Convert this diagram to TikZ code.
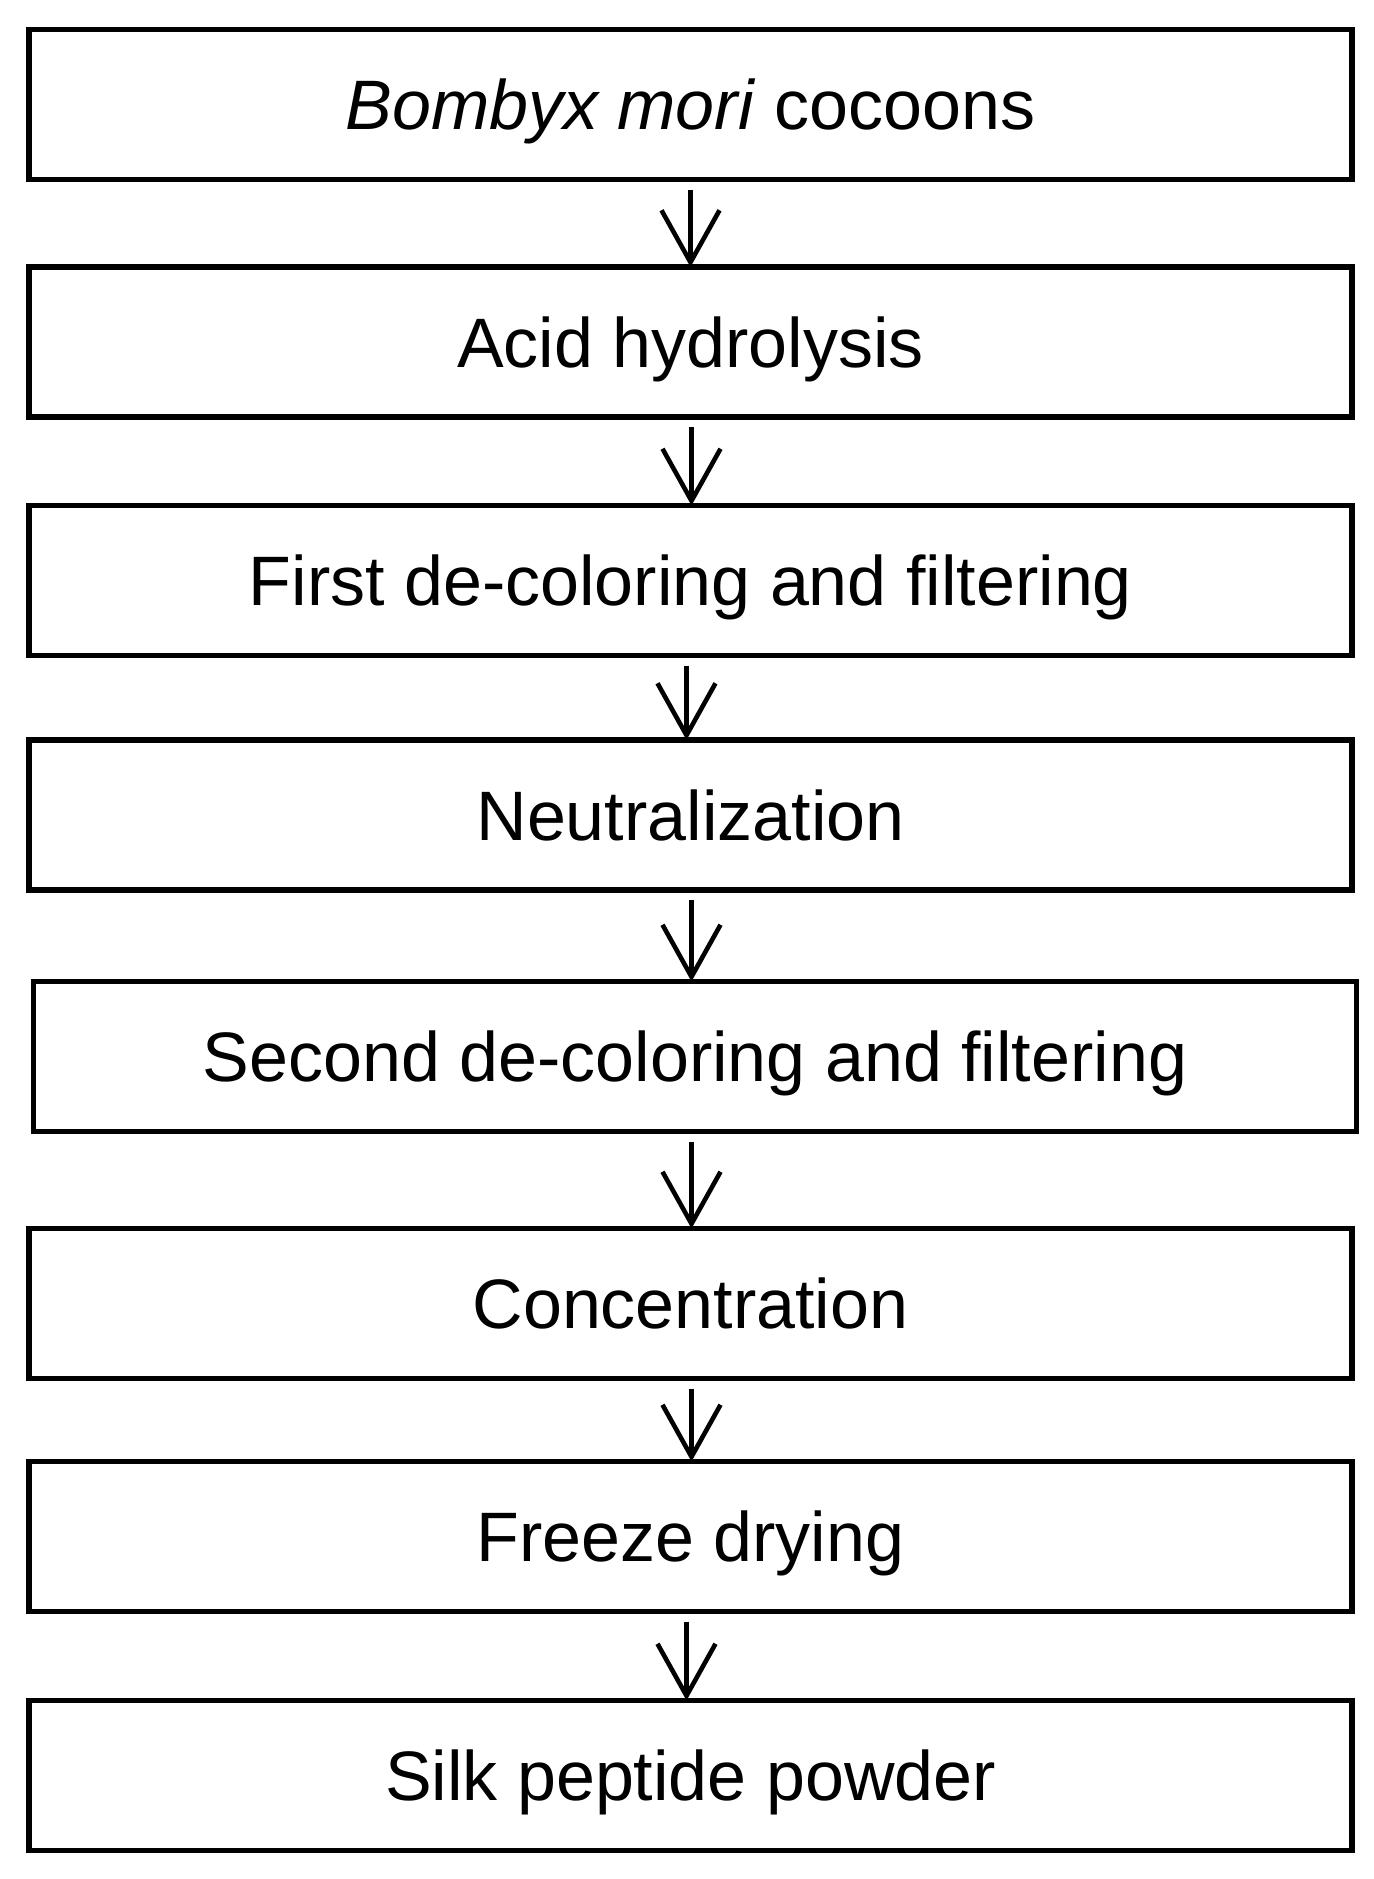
\documentclass[tikz,border=0pt]{standalone}
\usepackage{fontspec}
\setmainfont{Liberation Sans}
\usetikzlibrary{arrows.meta}
\begin{document}
\begin{tikzpicture}[x=0.5pt,y=-0.5pt,
  stepbox/.style={draw=black, line width=2.9pt, minimum width=661.5pt, minimum height=75pt,
    inner sep=0pt, outer sep=0pt, text height=25pt, text depth=0pt,
    font=\fontsize{35pt}{40pt}\selectfont},
  flow/.style={line width=2.3pt, -{Straight Barb[length=26pt,width=29pt,line width=2.3pt]}}]
\useasboundingbox[fill=white] (0,0) rectangle (1374,1879);
\node[stepbox] (b1) at (690.5,104.5) {\textit{Bombyx mori} cocoons};
\node[stepbox] (b2) at (690.5,342) {Acid hydrolysis};
\node[stepbox] (b3) at (690.5,580.5) {First de-coloring and filtering};
\node[stepbox] (b4) at (690.5,815) {Neutralization};
\node[stepbox] (b5) at (695,1056.5) {Second de-coloring and filtering};
\node[stepbox] (b6) at (690.5,1303.5) {Concentration};
\node[stepbox] (b7) at (690.5,1536.5) {Freeze drying};
\node[stepbox] (b8) at (690.5,1775.5) {Silk peptide powder};
\draw[flow] ([yshift=-5pt]b1.south) -- (b2.north);
\draw[flow] ([xshift=0.5pt,yshift=-5pt]b2.south) -- ([xshift=0.5pt]b3.north);
\draw[flow] ([xshift=-2pt,yshift=-5pt]b3.south) -- ([xshift=-2pt]b4.north);
\draw[flow] ([xshift=0.5pt,yshift=-5pt]b4.south) -- ([xshift=-1.75pt]b5.north);
\draw[flow] ([xshift=-1.75pt,yshift=-5pt]b5.south) -- ([xshift=0.5pt]b6.north);
\draw[flow] ([xshift=0.5pt,yshift=-5pt]b6.south) -- ([xshift=0.5pt]b7.north);
\draw[flow] ([xshift=-2pt,yshift=-5pt]b7.south) -- ([xshift=-2pt]b8.north);
\end{tikzpicture}
\end{document}
